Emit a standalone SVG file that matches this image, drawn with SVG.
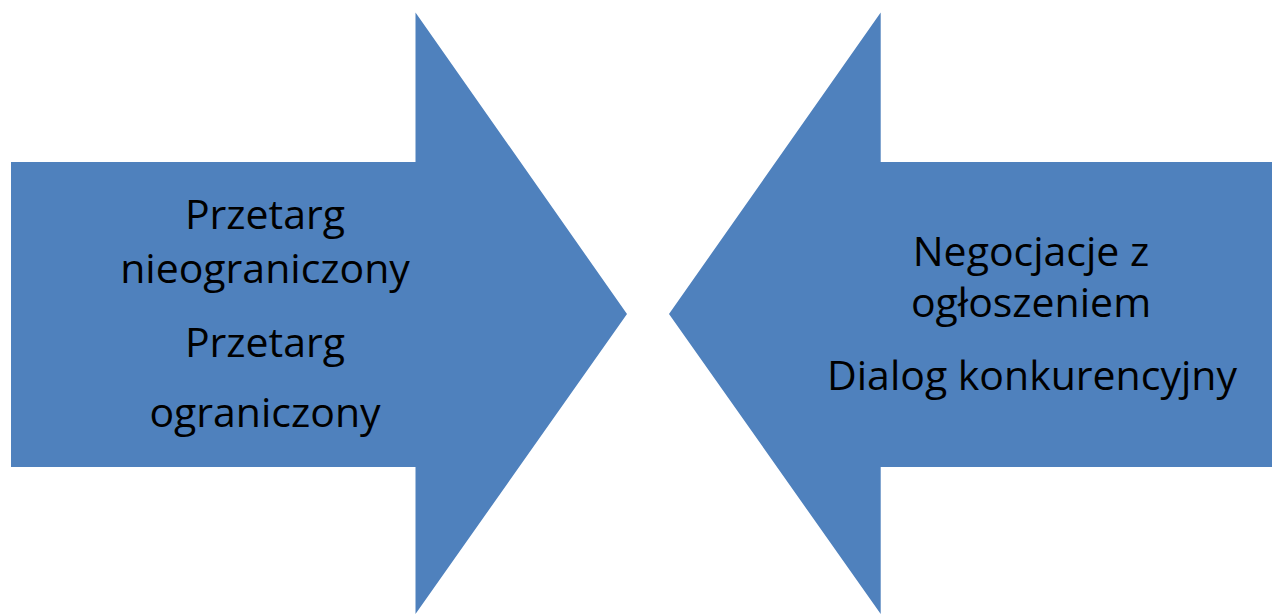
<svg xmlns="http://www.w3.org/2000/svg" width="1272" height="614" viewBox="0 0 1272 614">
<style>
.arrow{fill:#4F81BD;}
.t{font-family:"Open Sans","Liberation Sans",sans-serif;font-size:41px;fill:#000;text-anchor:middle;}
</style>
<rect width="1272" height="614" fill="#fff"/>
<g id="left-arrow">
<polygon class="arrow" points="11,162 415.5,162 415.5,12.5 627,314 415.5,614 415.5,467 11,467"/>
<text class="t" x="265" y="229">Przetarg</text>
<text class="t" x="265" y="283">nieograniczony</text>
<text class="t" x="265" y="357">Przetarg</text>
<text class="t" x="265" y="427">ograniczony</text>
</g>
<g id="right-arrow">
<polygon class="arrow" points="1272,162 880.7,162 880.7,12.5 669,314 880.7,614 880.7,467 1272,467"/>
<text class="t" x="1031" y="266">Negocjacje z</text>
<text class="t" x="1031" y="317">ogłoszeniem</text>
<text class="t" x="1032" y="390">Dialog konkurencyjny</text>
</g>
<g id="connectors"/>
</svg>
